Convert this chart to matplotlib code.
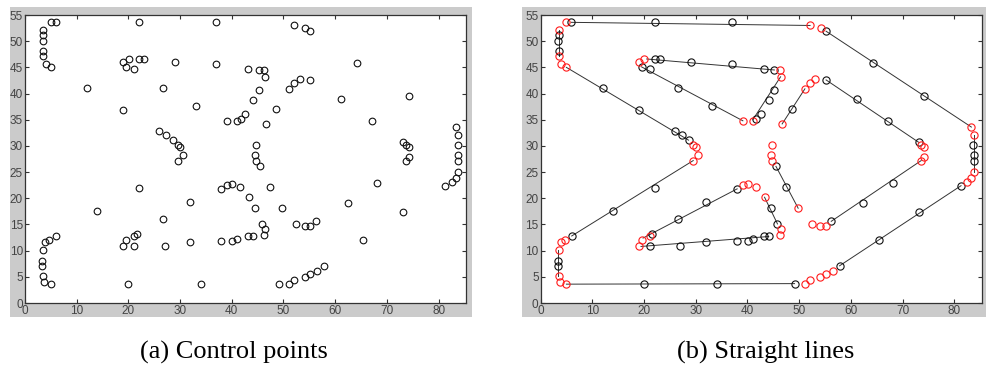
import numpy as np
import matplotlib.pyplot as plt
from matplotlib.patches import Rectangle

# control points (x, y, kind: k = on a straight line, r = corner)
pt_x = [4.97, 5.9, 22.05, 37.0, 52.1, 54.2, 55.2, 64.2, 74.2, 83.3, 83.75, 83.7, 83.75, 83.75,
        83.75, 83.3, 82.5, 81.3, 73.1, 65.4, 57.8, 56.5, 55.2, 54.1, 52.1, 51.1, 49.1, 34.1,
        20.0, 4.97, 3.7, 3.55, 3.35, 3.35, 3.55, 3.9, 4.7, 6.0, 14.0, 22.1, 29.5, 30.5, 30.0,
        29.5, 28.6, 27.3, 26.0, 19.0, 12.05, 4.97, 4.0, 3.55, 3.55, 3.4, 3.55, 3.55,
        19.0, 20.05, 22.05, 23.1, 29.0, 37.0, 43.1, 45.2, 46.2, 46.4, 45.2, 44.1, 42.6, 41.7,
        41.05, 39.1, 33.1, 26.6, 21.1, 19.5,
        46.7, 48.6, 51.1, 52.1, 53.1, 55.2, 61.1, 67.2, 73.1, 73.6, 74.2, 74.2, 73.6, 68.1,
        62.4, 56.2, 55.2, 54.1, 52.4,
        44.7, 44.5, 44.7, 45.5, 47.4, 49.8,
        19.0, 19.5, 21.1, 21.6, 26.6, 32.0, 38.0, 39.1, 40.1, 41.6, 43.3, 44.5, 45.8, 46.5,
        46.2, 44.1, 43.1, 41.1, 40.1, 38.0, 32.0, 27.0, 21.1]
pt_y = [53.6, 53.6, 53.6, 53.6, 53.0, 52.5, 51.9, 45.9, 39.6, 33.6, 32.1, 30.1, 28.2, 27.2,
        25.1, 23.8, 23.1, 22.4, 17.4, 12.1, 7.1, 6.1, 5.5, 5.0, 4.4, 3.7, 3.7, 3.6,
        3.6, 3.6, 4.0, 5.1, 7.1, 8.0, 10.1, 11.7, 12.1, 12.8, 17.6, 22.0, 27.2, 28.2, 29.7,
        30.2, 31.1, 32.1, 32.9, 36.8, 41.0, 45.0, 45.7, 47.2, 48.2, 50.1, 51.2, 52.2,
        46.0, 46.6, 46.6, 46.6, 46.0, 45.6, 44.7, 44.5, 44.5, 43.1, 40.6, 38.7, 36.1, 35.2,
        34.7, 34.8, 37.7, 41.1, 44.6, 45.1,
        34.2, 37.1, 40.9, 42.0, 42.7, 42.6, 38.9, 34.8, 30.7, 30.2, 29.7, 27.8, 27.2, 23.0,
        19.1, 15.6, 14.8, 14.7, 15.1,
        30.2, 28.2, 27.2, 26.1, 22.1, 18.1,
        10.9, 12.1, 12.7, 13.1, 16.1, 19.3, 21.8, 22.6, 22.7, 22.1, 20.2, 18.1, 15.1, 14.1,
        12.9, 12.7, 12.7, 12.3, 11.9, 11.8, 11.7, 10.8, 10.8]
pt_kind = list("rkkkrrkkkrrkkkrrrkkkkrrrrrkkkrrrkkrrrkkkrrrrkkkkkrrrkkkr"
               "rrkkkkkkrrkkkkrrkkkk"
               "rkrrrkkkkrrrrkkkrrr"
               "rrrkkr"
               "rrrkkkkrrrrkkrrkkkkkkkk")

# straight line segments (start and end) in panel (b)
seg_x0 = [5.9, 55.2, 83.75, 81.3, 49.1, 3.4, 6.0, 28.6, 3.5, 20.5, 41.1, 19.5, 46.7, 55.2,
          73.6, 45.5, 19.8, 43.3, 19.4]
seg_y0 = [53.6, 51.9, 32.1, 22.4, 3.7, 10.1, 12.8, 31.1, 52.2, 46.6, 35.1, 45.1, 34.2, 42.6,
          27.2, 26.1, 12.4, 20.2, 10.8]
seg_x1 = [52.1, 83.3, 83.75, 57.8, 4.97, 3.4, 29.5, 4.97, 3.5, 45.2, 46.4, 39.1, 51.1, 73.1,
          56.2, 49.8, 38.0, 45.8, 44.1]
seg_y1 = [53.0, 33.6, 25.1, 7.1, 3.6, 5.1, 27.2, 45.0, 47.2, 44.5, 43.2, 34.8, 40.9, 30.7,
          15.6, 18.1, 21.8, 15.1, 12.7]

captions = ["(a) Control points", "(b) Straight lines"]

W, H = 986, 368
fig = plt.figure(figsize=(W / 100, H / 100), dpi=100)
fig.patch.set_facecolor("white")

# grey matlab-style frames behind each panel
for x0, x1 in [(10, 472), (522, 986)]:
    fig.patches.append(Rectangle((x0 / W, 1 - 317 / H), (x1 - x0) / W, (317 - 7) / H,
                                 transform=fig.transFigure, facecolor="#cbcbcb",
                                 edgecolor="none", zorder=-5))

ax_left = [25, 540.7]
ax_w = 441
axes = []
for lx in ax_left:
    ax = fig.add_axes([lx / W, 1 - 303 / H, ax_w / W, (303 - 15) / H])
    ax.set_zorder(1)
    ax.set_facecolor("white")
    ax.set_xlim(0, 85.3)
    ax.set_ylim(0, 55)
    ax.set_xticks(np.arange(0, 81, 10))
    ax.set_yticks(np.arange(0, 56, 5))
    ax.tick_params(direction="in", length=3, width=0.8, top=True, right=True,
                   labelsize=8.5, labelcolor="#444444", color="#333333", pad=1.5)
    for s in ax.spines.values():
        s.set_color("#333333")
        s.set_linewidth(0.9)
    for lab in ax.get_xticklabels() + ax.get_yticklabels():
        lab.set_family("Liberation Sans")
    axes.append(ax)

x = np.array(pt_x)
y = np.array(pt_y)
red = np.array([k == "r" for k in pt_kind])

# (a) all control points
axes[0].plot(x, y, "o", ms=4.8, mfc="none", mec="#111111", mew=0.8)

# (b) straight lines with black line points and red corner points
for a, b, c, d in zip(seg_x0, seg_y0, seg_x1, seg_y1):
    axes[1].plot([a, c], [b, d], color="#333333", lw=0.7, zorder=2)
axes[1].plot(x[~red], y[~red], "o", ms=5.2, mfc="none", mec="#111111", mew=0.8, zorder=3)
axes[1].plot(x[red], y[red], "o", ms=5.2, mfc="none", mec="#ff1a1a", mew=0.8, zorder=3)

for cx, txt in zip([234, 766], captions):
    fig.text(cx / W, 1 - 352 / H, txt, ha="center", va="center",
             fontsize=19, family="Liberation Serif", color="black")

plt.savefig("out.png", dpi=100)
